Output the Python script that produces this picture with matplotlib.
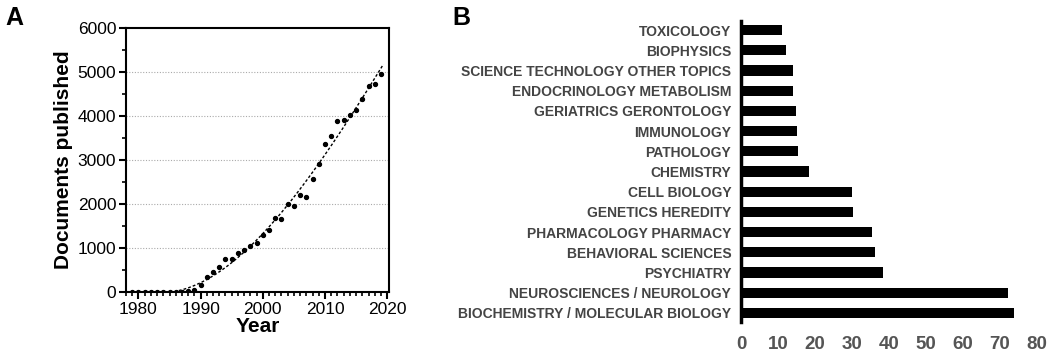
import numpy as np
import matplotlib.pyplot as plt
from matplotlib.ticker import MultipleLocator

plt.rcParams['font.family'] = ['Liberation Sans', 'DejaVu Sans']

# Panel A: documents published per year
years = np.arange(1979, 2020)
docs = [0, 0, 0, 0, 0, 0, 0, 0, 5, 25, 50,
        150, 340, 450, 560, 760, 745, 880, 955, 1050, 1110,
        1300, 1400, 1680, 1655, 2010, 1965, 2200, 2160, 2565, 2915,
        3355, 3545, 3880, 3900, 4015, 4135, 4395, 4690, 4730, 4960]

# Panel B: research areas (%)
areas = ['BIOCHEMISTRY / MOLECULAR BIOLOGY', 'NEUROSCIENCES / NEUROLOGY', 'PSYCHIATRY',
         'BEHAVIORAL SCIENCES', 'PHARMACOLOGY PHARMACY', 'GENETICS HEREDITY',
         'CELL BIOLOGY', 'CHEMISTRY', 'PATHOLOGY', 'IMMUNOLOGY',
         'GERIATRICS GERONTOLOGY', 'ENDOCRINOLOGY METABOLISM',
         'SCIENCE TECHNOLOGY OTHER TOPICS', 'BIOPHYSICS', 'TOXICOLOGY']
shares = [74.0, 72.3, 38.5, 36.4, 35.4, 30.4, 30.0, 18.4, 15.5, 15.2,
          15.0, 14.0, 14.0, 12.1, 11.1]

fig = plt.figure(figsize=(10.5, 3.57), dpi=100)

# ---- panel A ----
ax1 = fig.add_axes([0.12, 0.182, 0.2505, 0.7395])
yrs = np.array(years)
vals = np.array(docs, dtype=float)
ax1.scatter(yrs, vals, s=8, color='black', zorder=3)

# cubic trend fitted on the growth phase
mask = yrs >= 1987
coef = np.polyfit(yrs[mask], vals[mask], 3)
xfit = np.linspace(1986.5, 2019.4, 200)
yfit = np.clip(np.polyval(coef, xfit), 0, None)
ax1.plot(xfit, yfit, color='black', lw=1, linestyle=(0, (2, 1.5)), zorder=2)

ax1.set_xlim(1978, 2020.3)
ax1.set_ylim(0, 6000)
ax1.xaxis.set_major_locator(MultipleLocator(10))
ax1.xaxis.set_minor_locator(MultipleLocator(1))
ax1.yaxis.set_major_locator(MultipleLocator(1000))
ax1.yaxis.set_minor_locator(MultipleLocator(500))
for yv in range(1000, 6000, 1000):
    ax1.axhline(yv, color='#aaaaaa', lw=0.8, linestyle=(0, (1, 1.5)), zorder=1)
for s in ax1.spines.values():
    s.set_linewidth(1.5)
ax1.tick_params(which='major', length=5, width=1.5, labelsize=12.5, pad=2)
ax1.tick_params(which='minor', length=3, width=1.2)
ax1.set_xlabel('Year', fontsize=15, fontweight='bold', labelpad=0)
ax1.set_ylabel('Documents published', fontsize=15, fontweight='bold', labelpad=3)
fig.text(0.005, 0.93, 'A', fontsize=18, fontweight='bold')

# ---- panel B ----
ax2 = fig.add_axes([0.7057, 0.098, 0.2813, 0.843])
ypos = np.arange(len(areas))
ax2.barh(ypos, shares, height=0.5, color='black')
ax2.set_xlim(0, 80)
ax2.set_ylim(-0.45, len(areas) - 0.55)
ax2.set_yticks(ypos)
ax2.set_yticklabels(areas, fontsize=10, fontweight='bold', color='#444444')
ax2.set_xticks(range(0, 81, 10))
for lbl in ax2.get_xticklabels():
    lbl.set_fontweight('bold')
ax2.tick_params(axis='x', length=0, labelsize=13.5, labelcolor='#555555', pad=10)
ax2.tick_params(axis='y', length=0, pad=7)
for side in ['top', 'right', 'bottom']:
    ax2.spines[side].set_visible(False)
ax2.spines['left'].set_linewidth(2.5)
fig.text(0.431, 0.93, 'B', fontsize=18, fontweight='bold')

fig.savefig('out.png', dpi=100)
